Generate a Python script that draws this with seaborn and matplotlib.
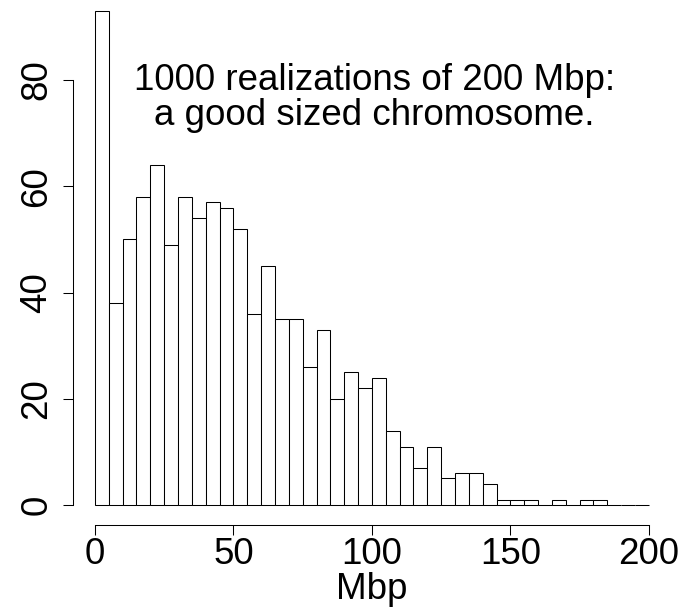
import numpy as np
import matplotlib
matplotlib.use("Agg")
import matplotlib.pyplot as plt
import seaborn as sns

# counts per 5 Mbp bin, 0..200
bin_edges = list(range(0, 205, 5))
counts = [93, 38, 50, 58, 64, 49, 58, 54, 57, 56,
          52, 36, 45, 35, 35, 26, 33, 20, 25, 22,
          24, 14, 11, 7, 11, 5, 6, 6, 4, 1,
          1, 1, 0, 1, 0, 1, 1, 0, 0, 0]
bin_mids = [e + 2.5 for e in bin_edges[:-1]]
x_ticks = [0, 50, 100, 150, 200]
y_ticks = [0, 20, 40, 60, 80]
note_lines = ["1000 realizations of 200 Mbp:", "a good sized chromosome."]

sns.set_theme(style="ticks", rc={
    "axes.linewidth": 0.75,
    "axes.edgecolor": "black",
    "axes.labelcolor": "black",
    "text.color": "black",
    "xtick.color": "black",
    "ytick.color": "black",
    "xtick.major.width": 0.75,
    "ytick.major.width": 0.75,
    "xtick.major.size": 7.2,
    "ytick.major.size": 7.2,
})
plt.rcParams["font.family"] = ["Liberation Sans", "DejaVu Sans"]
fs = 26.5

fig = plt.figure(figsize=(6.85, 6.09), dpi=100)
ax = fig.add_axes([72.8 / 685, 84.2 / 609, (671 - 72.8) / 685, (617.8 - 84.2) / 609])

sns.histplot(x=bin_mids, weights=counts, bins=bin_edges, color="white",
             edgecolor="black", linewidth=0.75, alpha=1, ax=ax)

ax.set_xlim(-8, 208)
ax.set_ylim(-3.72, 96.72)
sns.despine(ax=ax)
ax.spines["left"].set_bounds(0, 80)
ax.spines["bottom"].set_bounds(0, 200)
ax.set_xticks(x_ticks)
ax.set_yticks(y_ticks)
ax.set_xticklabels([str(t) for t in x_ticks], fontsize=fs)
ax.set_yticklabels([str(t) for t in y_ticks], fontsize=fs, rotation=90, va="center")
ax.tick_params(axis="x", pad=1.5)
ax.tick_params(axis="y", pad=6)
ax.set_xlabel("Mbp", fontsize=fs, labelpad=0)
ax.set_ylabel("")

ax.text(101, 78.1, note_lines[0], fontsize=fs, ha="center", va="baseline")
ax.text(101, 71.5, note_lines[1], fontsize=fs, ha="center", va="baseline")

fig.savefig("out.png", dpi=100)
